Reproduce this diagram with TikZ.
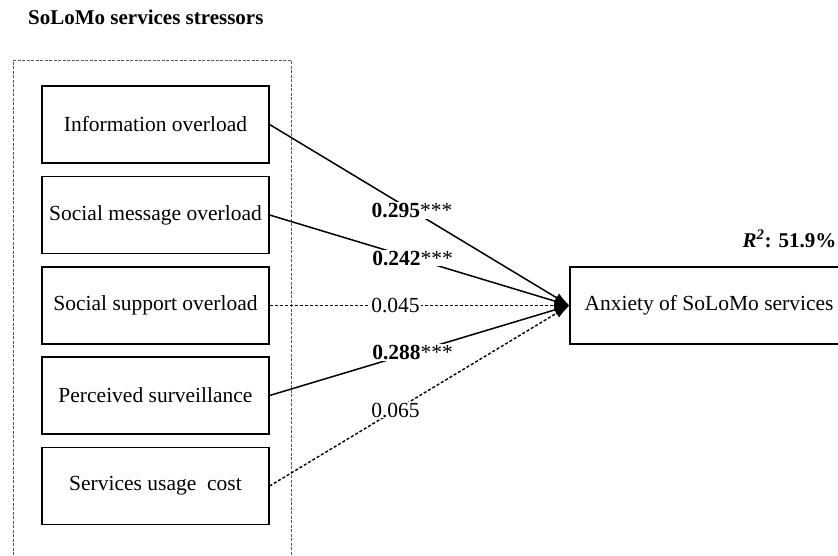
\documentclass[tikz,border=0pt]{standalone}
\usepackage{fontspec}
\setmainfont{Liberation Serif}
\usetikzlibrary{arrows.meta}
\begin{document}
\begin{tikzpicture}[x=1pt,y=1pt,
  every node/.style={font=\fontsize{21.5}{25}\selectfont},
  stressor/.style={draw,line width=1.2pt,minimum width=227pt,minimum height=77pt,inner sep=0pt},
  solidpath/.style={line width=1.5pt,-{Latex[length=15pt,width=10pt]}},
  dotpath/.style={line width=1.4pt,dash pattern=on 3pt off 2pt,-{Latex[length=15pt,width=10pt]}},
  coef/.style={fill=white,inner sep=1pt},
  headtext/.style={inner sep=0pt,font=\fontsize{21}{25}\selectfont\bfseries}]
\useasboundingbox (0,0) rectangle (838,-555);
\clip (0,0) rectangle (838,-555);
\fill[white] (0,0) rectangle (838,-555);
% outer dashed frame
\draw[gray!70!black,line width=0.8pt,dash pattern=on 3pt off 1.5pt] (13,-600) -- (13,-60) -- (291,-60) -- (291,-600);
\node[headtext,anchor=base west] (title) at (28,-24) {SoLoMo services stressors};
% stressor boxes
\node[stressor] (io) at (155.5,-124.5) {Information overload};
\node[stressor] (smo) at (155.5,-215) {Social message overload};
\node[stressor] (sso) at (155.5,-305.5) {Social support overload};
\node[stressor] (ps) at (155.5,-395.5) {Perceived surveillance};
\node[stressor] (suc) at (155.5,-486) {Services usage\ \ cost};
% outcome
\node[draw,line width=1.2pt,minimum width=278pt,minimum height=77pt,inner sep=0pt] (anx) at (709,-305.5) {Anxiety of SoLoMo services};
\node[headtext,anchor=base east] (r2) at (836.5,-247) {\textit{R}\textsuperscript{\itshape 2}: 51.9\%};
% paths
\draw[solidpath] (io.east) -- node[coef,pos=0.475] {\textbf{0.295}***} (anx.west);
\draw[solidpath] (smo.east) -- node[coef,pos=0.477] {\textbf{0.242}***} (anx.west);
\draw[dotpath] (sso.east) -- node[coef,pos=0.42] {0.045} (anx.west);
\draw[solidpath] (ps.east) -- node[coef,pos=0.477] {\textbf{0.288}***} (anx.west);
\draw[dotpath] (suc.east) -- node[coef,pos=0.42] {0.065} (anx.west);
\end{tikzpicture}
\end{document}
